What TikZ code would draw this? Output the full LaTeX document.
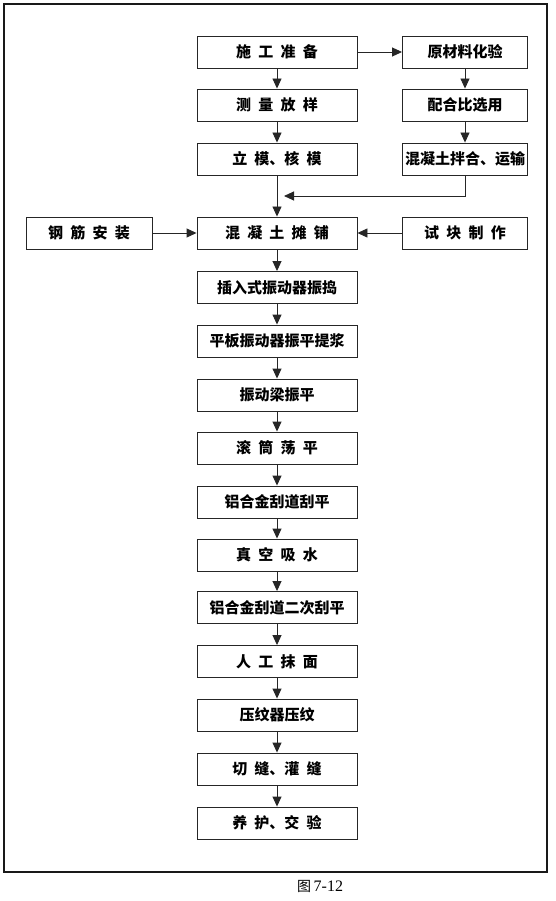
\documentclass[tikz,border=0pt]{standalone}
\usepackage{xcolor}
\usepackage{fontspec}
\usepackage{tikz}
\usetikzlibrary{arrows.meta}
\newfontfamily\cjk[WordSpace=2.1]{Noto Sans CJK SC}
\newfontfamily\capfont{Liberation Serif}
\definecolor{boxline}{rgb}{0.15,   0.15,   0.15}
\definecolor{frameline}{rgb}{0.10,   0.10,   0.10}

\begin{document}
\begin{tikzpicture}[x=1pt,y=-1pt]
\tikzset{stepbox/.style=
{draw=boxline, line width=0.9pt, minimum width=160pt, minimum height=32pt, inner sep=0pt,
 font=\cjk\bfseries\fontsize{15pt}{15pt}\selectfont},
sidebox/.style={stepbox, minimum width=125pt},
flow/.style={draw=boxline, line width=0.9pt, -{Triangle[length=10pt,width=9pt]}}}
\useasboundingbox (0,0) rectangle (555,901);
\draw[frameline, line width=1.6pt] (4,4) rectangle (547,872);

% main column
\node (s1) at (277,52) [stepbox] {施 工 准 备};
\node (s2) at (277,105) [stepbox] {测 量 放 样};
\node (s3) at (277,159) [stepbox] {立 模、核 模};
\node (s4) at (277,233) [stepbox] {混 凝 土 摊 铺};
\node (s5) at (277,287.5) [stepbox] {插入式振动器振捣};
\node (s6) at (277,341) [stepbox] {平板振动器振平提浆};
\node (s7) at (277,395) [stepbox] {振动梁振平};
\node (s8) at (277,448) [stepbox] {滚 筒 荡 平};
\node (s9) at (277,502) [stepbox] {铝合金刮道刮平};
\node (s10) at (277,555) [stepbox] {真 空 吸 水};
\node (s11) at (277,607.5) [stepbox] {铝合金刮道二次刮平};
\node (s12) at (277,661.5) [stepbox] {人 工 抹 面};
\node (s13) at (277,715) [stepbox] {压纹器压纹};
\node (s14) at (277,769) [stepbox] {切 缝、灌 缝};
\node (s15) at (277,823) [stepbox] {养 护、交 验};

% side boxes
\node (r1) at (465,52) [sidebox] {原材料化验};
\node (r2) at (465,105) [sidebox] {配合比选用};
\node (r3) at (465,159) [sidebox] {混凝土拌合、运输};
\node (l1) at (89,233) [sidebox, minimum width=126pt] {钢 筋 安 装};
\node (t1) at (465,233) [sidebox] {试 块 制 作};

\coordinate (c1) at (465,196);
\coordinate (c2) at (284,196);

\foreach \a/\b in {s1/s2,s2/s3,s3/s4,s4/s5,s5/s6,s6/s7,s7/s8,s8/s9,s9/s10,s10/s11,s11/s12,s12/s13,s13/s14,s14/s15,r1/r2,r2/r3}
  \draw[flow] (\a) -- (\b);
\draw[flow] (s1) -- (r1);
\draw[flow] (r3.south) -- (c1) -- (c2);
\draw[flow] (l1) -- (s4);
\draw[flow] (t1) -- (s4);

\node (cap) at (320,886) {\cjk\fontsize{14pt}{14pt}\selectfont 图\capfont\fontsize{16pt}{16pt}\selectfont\,7-12};
\end{tikzpicture}
\end{document}
